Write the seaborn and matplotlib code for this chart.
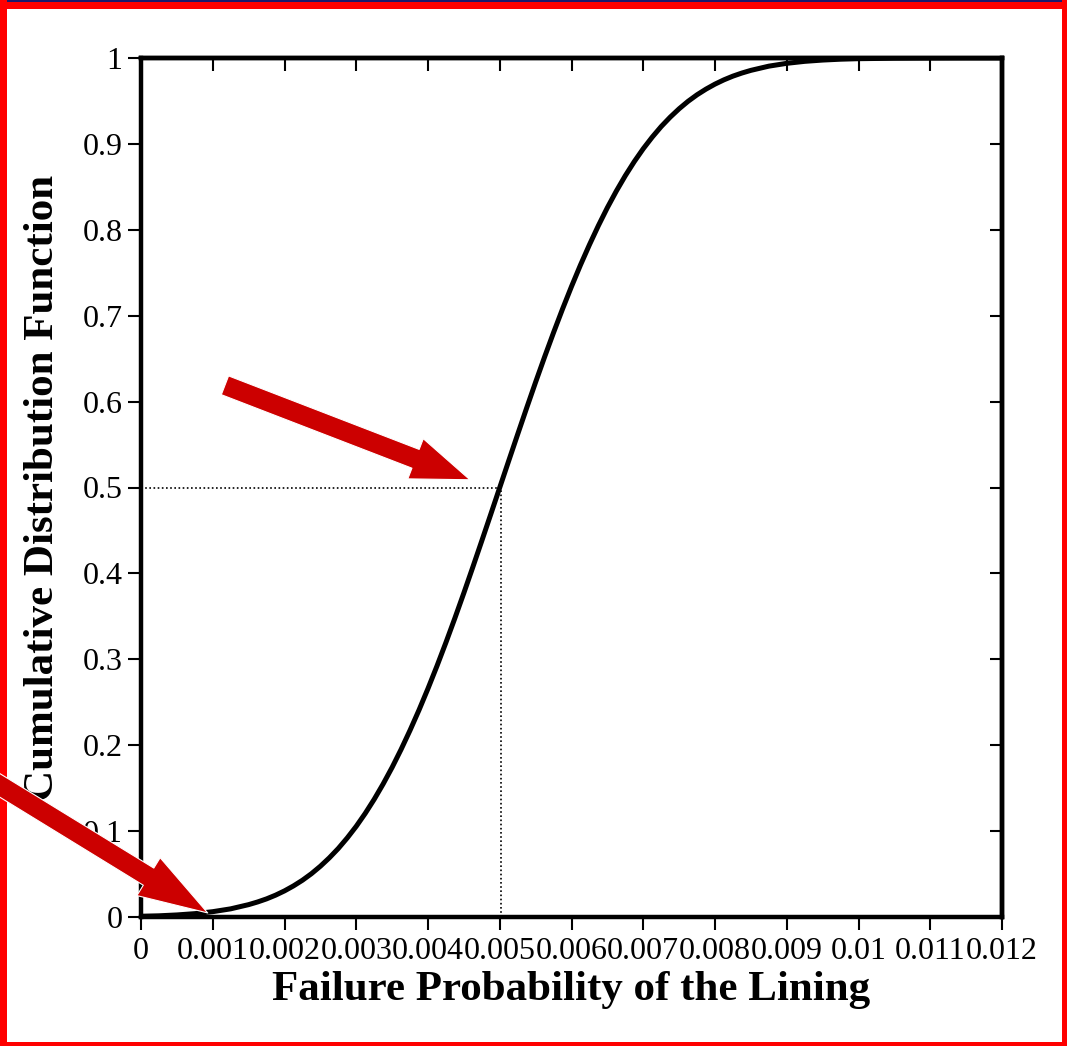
import matplotlib
matplotlib.use("Agg")
import matplotlib.pyplot as plt
import seaborn as sns
import numpy as np
import pandas as pd
from matplotlib.patches import Rectangle
from matplotlib.ticker import FuncFormatter

# ---- data ----
failure_prob = [0.0, 0.00025, 0.0005, 0.00075, 0.001, 0.00125,
                0.0015, 0.001625, 0.00175, 0.001875, 0.002, 0.002125, 0.00225, 0.002375,
                0.0025, 0.002625, 0.00275, 0.002875, 0.003, 0.003125, 0.00325, 0.003375,
                0.0035, 0.003625, 0.00375, 0.003875, 0.004, 0.004125, 0.00425, 0.004375,
                0.0045, 0.004625, 0.00475, 0.004875, 0.005, 0.005125, 0.00525, 0.005375,
                0.0055, 0.005625, 0.00575, 0.005875, 0.006, 0.006125, 0.00625, 0.006375,
                0.0065, 0.006625, 0.00675, 0.006875, 0.007, 0.007125, 0.00725, 0.007375,
                0.0075, 0.007625, 0.00775, 0.007875, 0.008, 0.008125, 0.00825, 0.008375,
                0.0085, 0.00875, 0.009, 0.00925, 0.0095, 0.00975, 0.01, 0.0105, 0.011,
                0.0115, 0.012]
cdf_values = [0.0009, 0.0014, 0.0024, 0.0039, 0.0062, 0.0095,
              0.0144, 0.0175, 0.0211, 0.0254, 0.0304, 0.0362, 0.0428, 0.0504,
              0.0591, 0.0689, 0.0798, 0.0921, 0.1056, 0.1206, 0.1370, 0.1549,
              0.1742, 0.1951, 0.2174, 0.2410, 0.2660, 0.2922, 0.3196, 0.3480,
              0.3773, 0.4074, 0.4380, 0.4689, 0.5000, 0.5311, 0.5620, 0.5926,
              0.6227, 0.6520, 0.6804, 0.7078, 0.7340, 0.7590, 0.7826, 0.8049,
              0.8258, 0.8451, 0.8630, 0.8794, 0.8944, 0.9079, 0.9202, 0.9311,
              0.9409, 0.9496, 0.9572, 0.9638, 0.9696, 0.9746, 0.9789, 0.9825,
              0.9856, 0.9905, 0.9938, 0.9961, 0.9976, 0.9986, 0.9992, 0.9997, 0.9999,
              1.0, 1.0]
x_ticks = [0, 0.001, 0.002, 0.003, 0.004, 0.005, 0.006, 0.007, 0.008, 0.009, 0.01, 0.011, 0.012]
y_ticks = [0, 0.1, 0.2, 0.3, 0.4, 0.5, 0.6, 0.7, 0.8, 0.9, 1.0]
median_x = 0.00502
median_y = 0.5
x_label = "Failure Probability of the Lining"
y_label = "Cumulative Distribution Function"

df = pd.DataFrame({"x": failure_prob, "y": cdf_values})

sns.set_style("ticks")
plt.rcParams["font.family"] = ["Liberation Serif", "DejaVu Serif"]
for k in ["text.color", "axes.labelcolor", "xtick.color", "ytick.color", "axes.edgecolor"]:
    plt.rcParams[k] = "black"

W, H = 1067, 1046
fig = plt.figure(figsize=(W / 100, H / 100), dpi=100)
fig.patch.set_facecolor("white")
ax = fig.add_axes([141 / W, 1 - 917 / H, (1002 - 141) / W, (917 - 58) / H])

sns.lineplot(data=df, x="x", y="y", ax=ax, color="black", linewidth=3.6, zorder=3)
for ln in ax.lines:
    ln.set_solid_joinstyle("round")
    ln.set_solid_capstyle("round")

# dotted median guides
ax.plot([0, median_x], [median_y, median_y], color="black", lw=1.2, ls=(0, (1, 1.5)), zorder=2)
ax.plot([median_x, median_x], [0, median_y], color="black", lw=1.2, ls=(0, (1, 1.5)), zorder=2)

ax.set_xlim(0, 0.012)
ax.set_ylim(0, 1)
ax.set_xticks(x_ticks)
ax.set_yticks(y_ticks)
fmt = FuncFormatter(lambda v, p: "%g" % round(v, 4))
ax.xaxis.set_major_formatter(fmt)
ax.yaxis.set_major_formatter(fmt)
ax.tick_params(axis="both", direction="out", length=9.5, width=1.5, colors="black",
               labelsize=23, top=False, right=False)
ax.tick_params(axis="x", pad=5)
ax.tick_params(axis="y", pad=4)
for s in ax.spines.values():
    s.set_linewidth(3.2)
    s.set_color("black")
    s.set_visible(True)

# inward ticks on top and right
secx = ax.secondary_xaxis("top")
secx.set_xticks(x_ticks)
secx.tick_params(direction="in", length=9, width=1.5, labeltop=False, colors="black")
secx.spines["top"].set_linewidth(3.2)
secy = ax.secondary_yaxis("right")
secy.set_yticks(y_ticks)
secy.tick_params(direction="in", length=9, width=1.5, labelright=False, colors="black")
secy.spines["right"].set_linewidth(3.2)

ax.set_xlabel(x_label, fontsize=31, fontweight="bold", color="black")
ax.set_ylabel(y_label, fontsize=31, fontweight="bold", color="black")
ax.xaxis.set_label_coords(0.5, -0.063)
ax.yaxis.set_label_coords(-0.092, 0.5)

# red arrows (annotations)
red = "#cc0000"
ax.annotate("", xy=(0.004585, 0.509), xytext=(0.00117, 0.619), xycoords="data",
            arrowprops=dict(arrowstyle="simple,head_length=42,head_width=31,tail_width=14.5",
                            mutation_scale=1, facecolor=red, edgecolor="white", lw=0.8,
                            shrinkA=0, shrinkB=0),
            annotation_clip=False, zorder=6)
ax.annotate("", xy=(0.00093, 0.0047), xytext=(-0.0021, 0.16), xycoords="data",
            arrowprops=dict(arrowstyle="simple,head_length=50,head_width=32,tail_width=14.5",
                            mutation_scale=1, facecolor=red, edgecolor="white", lw=0.8,
                            shrinkA=0, shrinkB=0, clip_on=False),
            annotation_clip=False, zorder=6)

# red frame around the figure
bw = {"top": 9, "left": 7, "right": 5, "bottom": 4}
fig.add_artist(Rectangle((0, 1 - bw["top"] / H), 1, bw["top"] / H, transform=fig.transFigure,
                         facecolor="#ff0000", edgecolor="none", zorder=0))
fig.add_artist(Rectangle((0, 1 - 1.5 / H), 1, 1.5 / H, transform=fig.transFigure,
                         facecolor="#1a1a6e", edgecolor="none", zorder=0))
fig.add_artist(Rectangle((0, 0), 1, bw["bottom"] / H, transform=fig.transFigure,
                         facecolor="#ff0000", edgecolor="none", zorder=0))
fig.add_artist(Rectangle((0, 0), bw["left"] / W, 1, transform=fig.transFigure,
                         facecolor="#ff0000", edgecolor="none", zorder=0))
fig.add_artist(Rectangle((1 - bw["right"] / W, 0), bw["right"] / W, 1, transform=fig.transFigure,
                         facecolor="#ff0000", edgecolor="none", zorder=0))

fig.savefig("out.png", dpi=100)
